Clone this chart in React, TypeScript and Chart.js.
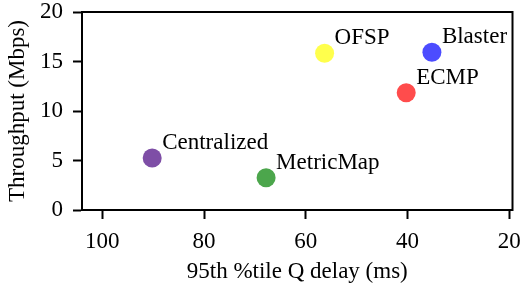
import React, { useEffect, useRef } from "react";
import { Chart, registerables } from "chart.js";

Chart.register(...registerables);

const methods = ["Centralized", "MetricMap", "OFSP", "Blaster", "ECMP"];
const delayMs = [90.2, 67.8, 56.3, 35.2, 40.25];
const throughputMbps = [5.25, 3.26, 15.83, 15.93, 11.85];
const colors = ["#7e4ea6", "#4ca64c", "#ffff4c", "#4c4cff", "#ff4c4c"];
const xTicks = [100, 80, 60, 40, 20];
const yTicks = [0, 5, 10, 15, 20];

const FONT = "'Liberation Serif', 'Times New Roman', serif";
const FS = 23;

const zeroPad = (s: any) => {
  s.paddingLeft = 0;
  s.paddingRight = 0;
  s.paddingTop = 0;
  s.paddingBottom = 0;
};

export default function App() {
  const ref = useRef<HTMLCanvasElement | null>(null);
  useEffect(() => {
    if (!ref.current) return;
    const labelPlugin = {
      id: "labels",
      afterDatasetsDraw(chart: any) {
        const ctx = chart.ctx;
        const xs = chart.scales.x;
        const ys = chart.scales.y;
        ctx.save();
        ctx.fillStyle = "#000";
        ctx.font = `${FS}px ${FONT}`;
        ctx.textAlign = "left";
        ctx.textBaseline = "alphabetic";
        methods.forEach((m, i) => {
          const px = xs.getPixelForValue(delayMs[i]);
          const py = ys.getPixelForValue(throughputMbps[i]);
          ctx.fillText(m, px + 10, py - 9);
        });
        ctx.restore();
      },
      afterDraw(chart: any) {
        const a = chart.chartArea;
        const ctx = chart.ctx;
        ctx.save();
        ctx.strokeStyle = "#000";
        ctx.lineWidth = 2;
        ctx.strokeRect(a.left, a.top, a.right - a.left, a.bottom - a.top);
        ctx.restore();
      },
    };
    const chart = new Chart(ref.current, {
      type: "scatter",
      data: {
        datasets: methods.map((m, i) => ({
          label: m,
          data: [{ x: delayMs[i], y: throughputMbps[i] }],
          backgroundColor: colors[i],
          borderColor: colors[i],
          borderWidth: 0,
          pointRadius: 9.5,
        })),
      },
      options: {
        animation: false,
        responsive: false,
        layout: { padding: { top: 12, right: 7, left: 0, bottom: 0 } },
        plugins: { legend: { display: false }, tooltip: { enabled: false } },
        scales: {
          x: {
            type: "linear",
            reverse: true,
            min: 19.35,
            max: 104,
            afterBuildTicks: (s: any) => {
              s.ticks = xTicks.map((v) => ({ value: v }));
            },
            afterFit: (s: any) => {
              s.height = 76;
              zeroPad(s);
            },
            grid: {
              drawOnChartArea: false,
              drawTicks: true,
              tickLength: 9,
              tickWidth: 2,
              tickColor: "#000",
            },
            border: { display: true, color: "#000", width: 2 },
            ticks: {
              color: "#000",
              font: { family: FONT, size: FS },
              padding: 9,
              maxRotation: 0,
            },
            title: {
              display: true,
              text: "95th %tile Q delay (ms)",
              color: "#000",
              font: { family: FONT, size: FS },
              padding: { top: 2, bottom: 0 },
            },
          },
          y: {
            type: "linear",
            min: 0,
            max: 20,
            afterBuildTicks: (s: any) => {
              s.ticks = yTicks.map((v) => ({ value: v }));
            },
            afterFit: (s: any) => {
              s.width = 82;
              zeroPad(s);
            },
            grid: {
              drawOnChartArea: false,
              drawTicks: true,
              tickLength: 9,
              tickWidth: 2,
              tickColor: "#000",
            },
            border: { display: true, color: "#000", width: 2 },
            ticks: {
              color: "#000",
              font: { family: FONT, size: FS },
              padding: 10,
            },
            title: {
              display: true,
              text: "Throughput (Mbps)",
              color: "#000",
              font: { family: FONT, size: FS },
              padding: { top: 4, bottom: 2 },
            },
          },
        },
      },
      plugins: [labelPlugin],
    } as any);
    return () => chart.destroy();
  }, []);
  return (
    <div style={{ position: "fixed", left: 0, top: 0, width: 522, height: 286, background: "#fff" }}>
      <canvas ref={ref} width={522} height={286} style={{ width: 522, height: 286, display: "block" }} />
    </div>
  );
}
